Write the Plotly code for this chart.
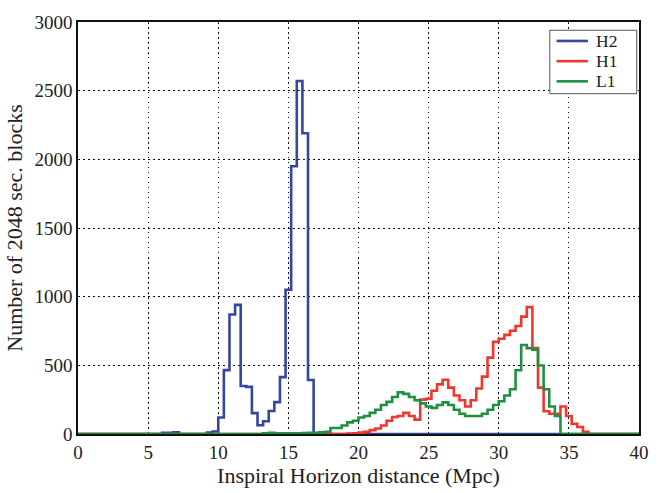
import numpy as np
import plotly.graph_objects as go

# Histogram bins: 0.4 Mpc wide, 0..40 Mpc
bin_width = 0.4
n_bins = 100

# Counts per bin (series start at the given bin index)
h2_start = 15
h2_counts = [8, 8, 12, 0, 0, 0, 0, 0, 10, 18, 120, 465, 870, 940, 350, 343, 152, 64,
             93, 168, 232, 414, 1050, 1950, 2570, 2190, 393]

h1_start = 48
h1_counts = [3, 5, 10, 16, 28, 40, 62, 97, 124, 131, 154, 131, 105, 250, 257,
             315, 361, 395, 338, 280, 246, 200, 246, 331, 418, 556, 671, 694, 722, 752,
             786, 855, 924, 625, 338, 166, 147, 147, 200, 131, 74, 51, 16]

l1_start = 33
l1_counts = [6, 8, 5, 6, 5, 5, 6, 7, 8, 9, 12, 16, 44, 44, 62, 85, 97, 120, 131, 154,
             177, 211, 234, 269, 303, 292, 269, 246, 223, 200, 190, 211, 230, 211, 177,
             147, 131, 131, 131, 147, 177, 211, 239, 280, 326, 464, 648, 625, 614, 499,
             326, 200, 131]

series = [("H2", h2_start, h2_counts, "#3447a0"),
          ("H1", h1_start, h1_counts, "#f0372e"),
          ("L1", l1_start, l1_counts, "#1f9040")]

x_ticks = [0, 5, 10, 15, 20, 25, 30, 35, 40]
y_ticks = [0, 500, 1000, 1500, 2000, 2500, 3000]

edges = np.arange(n_bins + 1) * bin_width

fig = go.Figure()
for name, start, counts, color in series:
    full = np.zeros(n_bins)
    full[start:start + len(counts)] = counts
    yy = np.append(full, 0)
    fig.add_trace(go.Scatter(x=edges, y=yy, mode="lines", name=name, showlegend=False,
                             line=dict(color=color, width=2.6, shape="hv")))

FONT = "Liberation Serif"
axis_common = dict(showline=True, mirror=True, linecolor="#111", linewidth=1.6,
                   showgrid=True, gridcolor="#111", gridwidth=1.4, griddash="1.5px,3.5px",
                   zeroline=False, ticks="", tickfont=dict(family=FONT, size=19, color="#222"))

# Manual legend (paper coordinates of the plot area)
leg_box = dict(x0=0.841, x1=0.996, y0=0.826, y1=0.980)
leg_rows = [0.954, 0.905, 0.856]
shapes = [dict(type="rect", xref="paper", yref="paper", **leg_box,
               line=dict(color="#555", width=1), fillcolor="white", layer="above")]
annotations = []
for (name, _, _, color), yrow in zip(series, leg_rows):
    shapes.append(dict(type="line", xref="paper", yref="paper", x0=0.853, x1=0.909,
                       y0=yrow, y1=yrow, line=dict(color=color, width=2.6), layer="above"))
    annotations.append(dict(xref="paper", yref="paper", x=0.922, y=yrow, text=name,
                            showarrow=False, xanchor="left", yanchor="middle",
                            borderpad=0,
                            font=dict(family=FONT, size=17.5, color="#222")))

fig.update_layout(
    width=670, height=493,
    margin=dict(l=78, r=31, t=12, b=46),
    paper_bgcolor="white", plot_bgcolor="white",
    font=dict(family=FONT, color="#222"),
    xaxis=dict(range=[0, 40], tickvals=x_ticks, ticktext=[str(v) for v in x_ticks],
               title=dict(text="Inspiral Horizon distance (Mpc)", font=dict(family=FONT, size=22),
                          standoff=3),
               **axis_common),
    yaxis=dict(range=[0, 3000], tickvals=y_ticks, ticktext=[str(v) for v in y_ticks],
               title=dict(text="Number of 2048 sec. blocks", font=dict(family=FONT, size=22),
                          standoff=6),
               **axis_common),
    shapes=shapes,
    annotations=annotations,
    showlegend=False,
)

fig.write_html("out.html")
